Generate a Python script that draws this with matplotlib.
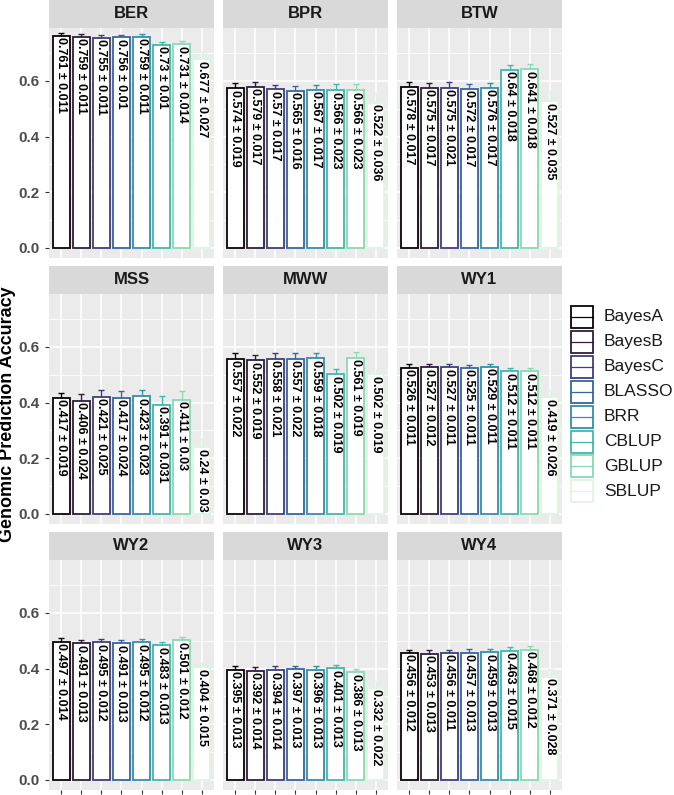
import numpy as np
import matplotlib.pyplot as plt
from matplotlib.patches import Rectangle

plt.rcParams['font.family'] = ['Liberation Sans', 'DejaVu Sans']

traits = ['BER', 'BPR', 'BTW', 'MSS', 'MWW', 'WY1', 'WY2', 'WY3', 'WY4']
methods = ['BayesA', 'BayesB', 'BayesC', 'BLASSO', 'BRR', 'CBLUP', 'GBLUP', 'SBLUP']
colors = ['#0B0405', '#2E1E3C', '#413D7B', '#37659E', '#348FA7', '#40B7AD', '#8AD9B1', '#DEF5E5']

acc = {
    'BER': [0.761, 0.759, 0.755, 0.756, 0.759, 0.73, 0.731, 0.677],
    'BPR': [0.574, 0.579, 0.57, 0.565, 0.567, 0.566, 0.566, 0.522],
    'BTW': [0.578, 0.575, 0.575, 0.572, 0.576, 0.64, 0.641, 0.527],
    'MSS': [0.417, 0.406, 0.421, 0.417, 0.423, 0.391, 0.411, 0.24],
    'MWW': [0.557, 0.552, 0.558, 0.557, 0.559, 0.502, 0.561, 0.502],
    'WY1': [0.526, 0.527, 0.527, 0.525, 0.529, 0.512, 0.512, 0.419],
    'WY2': [0.497, 0.491, 0.495, 0.491, 0.495, 0.483, 0.501, 0.404],
    'WY3': [0.395, 0.392, 0.394, 0.397, 0.396, 0.401, 0.386, 0.332],
    'WY4': [0.456, 0.453, 0.456, 0.457, 0.459, 0.463, 0.468, 0.371],
}
se = {
    'BER': [0.011, 0.011, 0.011, 0.01, 0.011, 0.01, 0.014, 0.027],
    'BPR': [0.019, 0.017, 0.017, 0.016, 0.017, 0.023, 0.023, 0.036],
    'BTW': [0.017, 0.017, 0.021, 0.017, 0.017, 0.018, 0.018, 0.035],
    'MSS': [0.019, 0.024, 0.025, 0.024, 0.023, 0.031, 0.03, 0.03],
    'MWW': [0.022, 0.019, 0.021, 0.022, 0.018, 0.019, 0.019, 0.019],
    'WY1': [0.011, 0.012, 0.011, 0.011, 0.011, 0.011, 0.011, 0.026],
    'WY2': [0.014, 0.013, 0.012, 0.013, 0.012, 0.013, 0.012, 0.015],
    'WY3': [0.013, 0.014, 0.014, 0.013, 0.013, 0.013, 0.013, 0.022],
    'WY4': [0.012, 0.013, 0.011, 0.013, 0.013, 0.015, 0.012, 0.028],
}

W, H = 674, 795
fig = plt.figure(figsize=(W / 100, H / 100), dpi=100)


def px_axes(x0, y0, w, h):
    # pixel box measured from the top-left corner
    return fig.add_axes([x0 / W, 1 - (y0 + h) / H, w / W, h / H])


col_x = [49, 223, 397]
strip_top = [0, 266, 532]
panel_w, strip_h, panel_h = 165, 28, 230
x = np.arange(1, len(methods) + 1)

for k, t in enumerate(traits):
    r, c = divmod(k, 3)
    ax = px_axes(col_x[c], strip_top[r] + strip_h, panel_w, panel_h)
    ax.set_facecolor('#EBEBEB')
    for s in ax.spines.values():
        s.set_visible(False)
    ax.set_xlim(0.4, 8.6)
    ax.set_ylim(-0.036, 0.79)
    ax.set_xticks(x)
    ax.set_yticks([0, 0.2, 0.4, 0.6])
    ax.set_yticks([0.1, 0.3, 0.5, 0.7], minor=True)
    ax.grid(which='major', color='white', lw=1.1)
    ax.grid(which='minor', axis='y', color='white', lw=0.55)
    ax.set_axisbelow(True)
    ax.tick_params(which='minor', length=0)
    ax.tick_params(axis='both', length=3, width=0.8, color='#333333')
    ax.tick_params(axis='x', labelbottom=False, bottom=(r == 2))
    if c == 0:
        ax.set_yticklabels(['0.0', '0.2', '0.4', '0.6'], fontsize=11,
                           fontweight='bold', color='#4D4D4D')
    else:
        ax.tick_params(axis='y', left=False, labelleft=False)

    vals, errs = acc[t], se[t]
    for xi, v, e, col in zip(x, vals, errs, colors):
        ax.errorbar(xi, v, yerr=e, fmt='none', ecolor=col, elinewidth=1,
                    capsize=2, capthick=1, zorder=2)
    ax.bar(x, vals, width=0.85, color='white', edgecolor=colors,
           linewidth=1.3, zorder=3)
    for xi, v, e in zip(x, vals, errs):
        ax.text(xi, v - 0.005, f'{v:g} \u00b1 {e:g}', rotation=270,
                ha='center', va='top', fontsize=9, fontweight='bold',
                color='black', zorder=4)

    sax = px_axes(col_x[c], strip_top[r], panel_w, strip_h)
    sax.set_facecolor('#D9D9D9')
    sax.set_xticks([])
    sax.set_yticks([])
    for s in sax.spines.values():
        s.set_visible(False)
    sax.text(0.5, 0.5, t, ha='center', va='center', fontsize=12,
             fontweight='bold', color='#1A1A1A', transform=sax.transAxes)

fig.text(8 / W, 1 - 414 / H, 'Genomic Prediction Accuracy', rotation=90,
         ha='center', va='center', fontsize=13, fontweight='bold')

# legend
lax = px_axes(569, 304, 105, 202)
lax.set_xlim(0, 105)
lax.set_ylim(202, 0)
lax.axis('off')
pitch, key = 24.9, 22
for i, (m, col) in enumerate(zip(methods, colors)):
    y0 = 2 + i * pitch
    lax.add_patch(Rectangle((2, y0), key, key, facecolor='white',
                            edgecolor=col, lw=1.3))
    lax.plot([2, 2 + key], [y0 + key / 2, y0 + key / 2], color=col, lw=0.9)
    lax.text(35, y0 + key / 2, m, ha='left', va='center', fontsize=12.5,
             color='#1A1A1A')

fig.savefig('out.png', dpi=100)
